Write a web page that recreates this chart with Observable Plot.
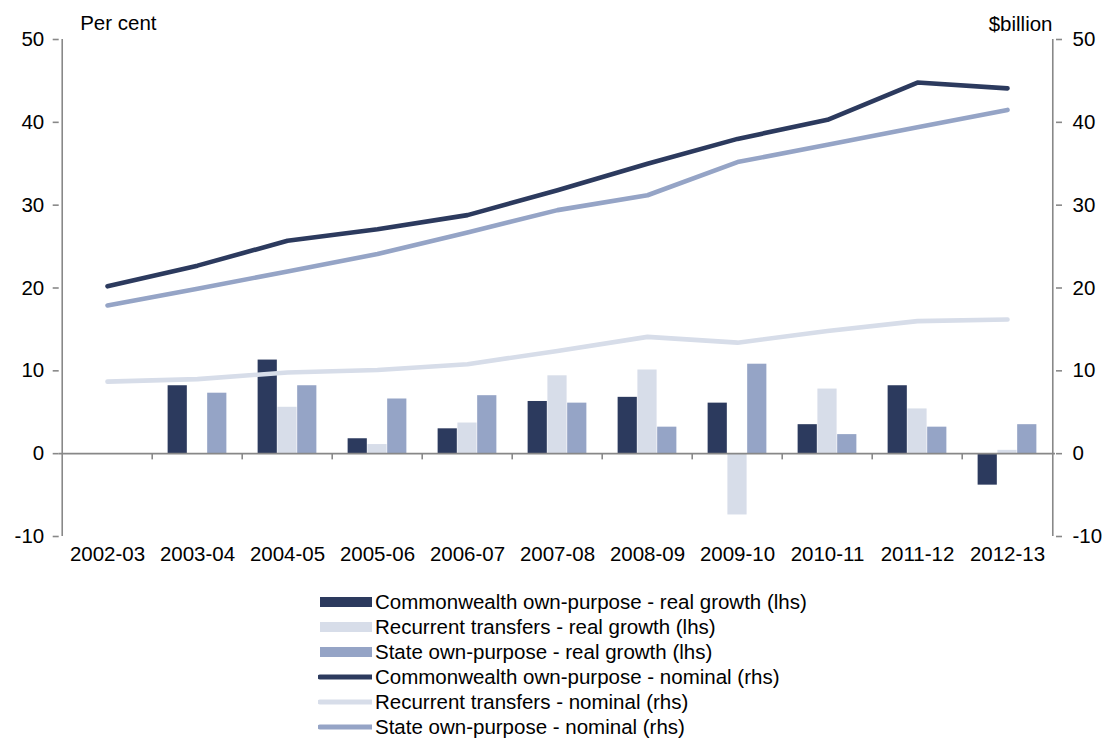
<!DOCTYPE html>
<html>
<head>
<meta charset="utf-8">
<script src="https://cdn.jsdelivr.net/npm/d3@7"></script>
<script src="https://cdn.jsdelivr.net/npm/@observablehq/plot@0.6"></script>
<style>
  body { margin: 0; background: #fff; font-family: "Liberation Sans", Arial, sans-serif; }
  #chart svg { display: block; }
  #legend { margin-top: 10px; padding-left: 318px; font-size: 20.5px; color: #000; }
  .row { display: flex; align-items: center; height: 24.9px; }
  .sw { width: 54px; height: 24px; margin-right: 3px; }
</style>
</head>
<body>
<div id="chart"></div>
<div id="legend"></div>
<script>
const categories = ["2002-03","2003-04","2004-05","2005-06","2006-07","2007-08","2008-09","2009-10","2010-11","2011-12","2012-13"];
// Real growth, per cent (lhs)
const cwReal    = [null, 8.2, 11.3, 1.8, 3.0, 6.3, 6.8, 6.1, 3.5, 8.2, -3.8];
const recReal   = [null, null, 5.6, 1.1, 3.7, 9.4, 10.1, -7.4, 7.8, 5.4, 0.4];
const stateReal = [null, 7.3, 8.2, 6.6, 7.0, 6.1, 3.2, 10.8, 2.3, 3.2, 3.5];
// Nominal, $billion (rhs)
const cwNom    = [20.2, 22.7, 25.7, 27.1, 28.8, 31.8, 35.0, 38.0, 40.3, 44.8, 44.1];
const recNom   = [8.7, 9.0, 9.8, 10.1, 10.8, 12.4, 14.1, 13.4, 14.8, 16.0, 16.2];
const stateNom = [17.9, 19.9, 22.0, 24.1, 26.7, 29.4, 31.2, 35.2, 37.3, 39.4, 41.5];
const yTicks = [-10, 0, 10, 20, 30, 40, 50];

const seriesNames = [
  "Commonwealth own-purpose - real growth (lhs)",
  "Recurrent transfers - real growth (lhs)",
  "State own-purpose - real growth (lhs)",
  "Commonwealth own-purpose - nominal (rhs)",
  "Recurrent transfers - nominal (rhs)",
  "State own-purpose - nominal (rhs)"
];
const colors = ["#2C3A5E", "#D7DDE9", "#95A4C6"];

const W = 1108, H = 580, mL = 58.7, mR = 53, mT = 39, mB = 44;
const bw = (W - mL - mR) / categories.length;
const groupW = bw * 0.655, barW = groupW / 3, off = (bw - groupW) / 2;
const FS = 20.5;

const rows = (vals) => categories.map((c, i) => ({c, v: vals[i]})).filter(d => d.v != null);
const barMark = (vals, k) => Plot.barY(rows(vals), {
  x: "c", y: "v", fill: colors[k],
  insetLeft: off + k * barW, insetRight: bw - off - (k + 1) * barW
});
const lineMark = (vals, k) => Plot.line(rows(vals), {
  x: "c", y: "v", stroke: colors[k], strokeWidth: 4.6, strokeLinecap: "round", strokeLinejoin: "round"
});
const axisColor = "#888";

const chart = Plot.plot({
  width: W, height: H,
  marginLeft: mL, marginRight: mR, marginTop: mT, marginBottom: mB,
  style: {fontFamily: "Liberation Sans, Arial, sans-serif", fontSize: FS + "px", color: "#000", background: "#fff"},
  x: {type: "band", domain: categories, padding: 0},
  y: {domain: [-10, 50]},
  marks: [
    barMark(cwReal, 0), barMark(recReal, 1), barMark(stateReal, 2),
    Plot.ruleY([0], {stroke: axisColor, strokeWidth: 1.6}),
    Plot.ruleX(categories.slice(1), {x: d => d, y1: 0, y2: -0.75, dx: -bw / 2, stroke: axisColor, strokeWidth: 1.6}),
    Plot.ruleX([categories[0]], {y1: -10, y2: 50, dx: -bw / 2, stroke: axisColor, strokeWidth: 1.6}),
    Plot.ruleX([categories[categories.length - 1]], {y1: -10, y2: 50, dx: bw / 2, stroke: axisColor, strokeWidth: 1.6}),
    lineMark(recNom, 1), lineMark(stateNom, 2), lineMark(cwNom, 0),
    Plot.axisY(yTicks, {anchor: "left", tickSize: 6, tickPadding: 9, stroke: axisColor, strokeWidth: 1.6, label: null, fontSize: FS, tickFormat: d => String(d)}),
    Plot.axisY(yTicks, {anchor: "right", tickSize: 6, tickPadding: 11, stroke: axisColor, strokeWidth: 1.6, label: null, fontSize: FS, tickFormat: d => String(d)}),
    Plot.axisX({anchor: "bottom", tickSize: 0, tickPadding: 10, label: null, fontSize: FS}),
    Plot.text(["Per cent"], {frameAnchor: "top-left", textAnchor: "start", dx: 21, dy: -24, fontSize: FS}),
    Plot.text(["$billion"], {frameAnchor: "top-right", textAnchor: "end", dx: -3, dy: -23, fontSize: FS})
  ]
});
document.getElementById("chart").appendChild(chart);

// Legend
const legend = d3.select("#legend");
seriesNames.forEach((name, i) => {
  const row = legend.append("div").attr("class", "row");
  const svg = row.append("svg").attr("class", "sw").attr("width", 54).attr("height", 24);
  const col = colors[i % 3];
  if (i < 3) {
    svg.append("rect").attr("x", 2).attr("y", 7).attr("width", 52).attr("height", 10).attr("fill", col);
  } else {
    svg.append("line").attr("x1", 2).attr("x2", 54).attr("y1", 12).attr("y2", 12)
      .attr("stroke", col).attr("stroke-width", 5).attr("stroke-linecap", "round");
  }
  row.append("span").text(name);
});
</script>
</body>
</html>
